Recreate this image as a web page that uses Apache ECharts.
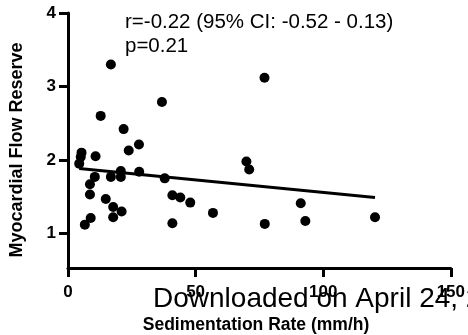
<!DOCTYPE html>
<html>
<head>
<meta charset="utf-8">
<script src="https://cdn.jsdelivr.net/npm/echarts@6/dist/echarts.min.js"></script>
<style>html,body{margin:0;padding:0;background:#fff}#c{width:468px;height:335px}</style>
</head>
<body>
<div id="c"></div>
<script>
// Sedimentation rate (mm/h) vs myocardial flow reserve
const sedRate = [4.4, 5.0, 5.3, 6.6, 8.6, 8.6, 8.9, 10.5, 10.8, 12.8, 14.8, 16.8, 16.8, 17.7, 17.7, 20.7, 20.7, 21.0, 21.8, 23.8, 27.8, 27.9, 36.8, 37.9, 40.9, 40.9, 44.0, 47.9, 56.8, 69.9, 71.0, 77.0, 77.1, 91.2, 93.0, 120.3];
const flowReserve = [1.95, 2.04, 2.10, 1.12, 1.67, 1.53, 1.21, 1.77, 2.05, 2.60, 1.47, 1.77, 3.30, 1.36, 1.22, 1.85, 1.77, 1.30, 2.42, 2.13, 2.21, 1.84, 2.79, 1.75, 1.52, 1.14, 1.49, 1.42, 1.28, 1.98, 1.87, 3.12, 1.13, 1.41, 1.17, 1.22];
const fitX = [4.4, 120.3];
const fitY = [1.885, 1.49];
const xTicks = [0, 50, 100, 150];
const yTicks = [1, 2, 3, 4];
const statLines = ['r=-0.22 (95% CI: -0.52 - 0.13)', 'p=0.21'];
const xTitle = 'Sedimentation Rate (mm/h)';
const yTitle = 'Myocardial Flow Reserve';
const watermark = 'Downloaded on April 24, 20';

const points = sedRate.map((x, i) => [x, flowReserve[i]]);
const fit = fitX.map((x, i) => [x, fitY[i]]);
const FONT = '"Liberation Sans", Arial, sans-serif';

const chart = echarts.init(document.getElementById('c'), null, {renderer: 'canvas'});
chart.setOption({
  animation: false,
  backgroundColor: '#fff',
  grid: {left: 68, right: 15.5, top: 13, bottom: 67, containLabel: false},
  xAxis: {
    type: 'value', min: 0, max: 150,
    splitLine: {show: false},
    axisLine: {lineStyle: {color: '#000', width: 3}},
    axisTick: {customValues: xTicks, length: 9, lineStyle: {color: '#000', width: 3}},
    axisLabel: {customValues: xTicks, color: '#000', fontWeight: 'bold', fontSize: 17, fontFamily: FONT, margin: 16}
  },
  yAxis: {
    type: 'value', min: 0.53, max: 4,
    splitLine: {show: false},
    axisLine: {lineStyle: {color: '#000', width: 3}},
    axisTick: {customValues: yTicks, length: 9, lineStyle: {color: '#000', width: 3}},
    axisLabel: {customValues: yTicks, color: '#000', fontWeight: 'bold', fontSize: 17, fontFamily: FONT, margin: 12}
  },
  graphic: [
    {type: 'text', left: 125, top: 12, style: {text: statLines[0], fill: '#000', font: '20.5px ' + FONT}},
    {type: 'text', left: 125, top: 36, style: {text: statLines[1], fill: '#000', font: '20.5px ' + FONT}},
    {type: 'text', x: 153, y: 299, style: {text: watermark, fill: '#000', font: '28px ' + FONT, verticalAlign: 'middle'}},
    {type: 'text', x: 256, y: 325, style: {text: xTitle, fill: '#000', font: 'bold 17.5px ' + FONT, align: 'center', verticalAlign: 'middle'}},
    {type: 'text', x: 17.5, y: 150, rotation: Math.PI / 2, style: {text: yTitle, fill: '#000', font: 'bold 18px ' + FONT, align: 'center', verticalAlign: 'middle'}}
  ],
  series: [
    {type: 'scatter', data: points, symbol: 'circle', symbolSize: 10, itemStyle: {color: '#000', opacity: 1}, z: 3},
    {type: 'line', data: fit, symbol: 'none', lineStyle: {color: '#000', width: 3}, z: 2}
  ]
});
</script>
</body>
</html>
